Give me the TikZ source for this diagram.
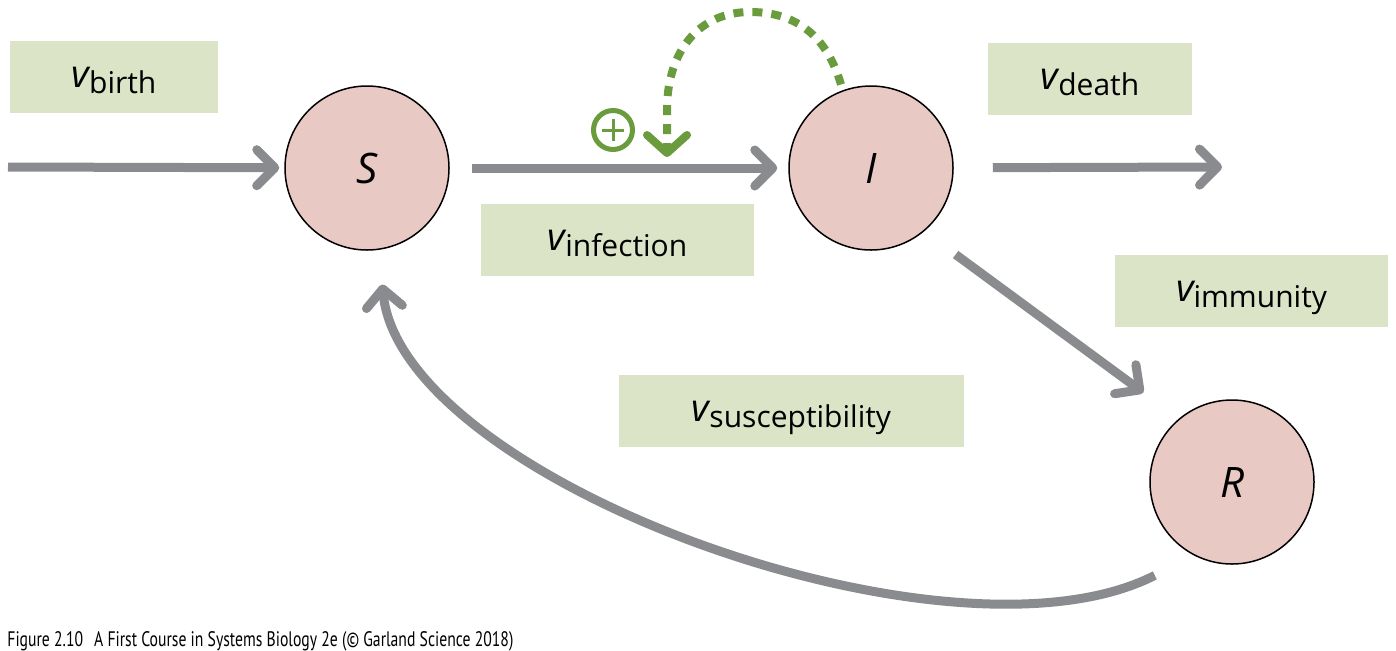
\documentclass[tikz,border=0pt]{standalone}
\usepackage{fontspec}
\usepackage{graphicx}
\setmainfont{Open Sans}
\setsansfont{Open Sans}
\newfontfamily\capfont{PT Sans}
\usetikzlibrary{arrows.meta,calc}
\definecolor{flowgray}{HTML}{898B8E}
\definecolor{boxgreen}{HTML}{DCE4C7}
\definecolor{poolpink}{HTML}{E8C9C4}
\definecolor{actgreen}{HTML}{6A9B3C}
\newcommand\ratelab[1]{{\fontsize{19}{19}\selectfont\itshape v}\raisebox{-3pt}{\fontsize{15}{15}\selectfont #1}}
\begin{document}
\begin{tikzpicture}[x=0.5pt,y=-0.5pt,
 pool/.style={circle, draw=black, line width=0.75pt, fill=poolpink, minimum size=82pt, inner sep=0pt, font=\fontsize{21}{21}\selectfont\itshape},
 ratebox/.style={fill=boxgreen, minimum height=36pt, inner sep=0pt, text height=10pt, text depth=0pt},
 flow/.style={draw=flowgray, line width=4.5pt, -{Straight Barb[length=9pt,width=18pt,round]}},
 regul/.style={draw=actgreen, line width=4pt, dash pattern=on 5pt off 4.5pt, -{Straight Barb[length=9pt,width=20pt,round]}},
 plussign/.style={circle, draw=actgreen, line width=2.5pt, minimum size=19.5pt, inner sep=0pt,
   path picture={\draw[actgreen, line width=1.5pt] ([xshift=-5.5pt]path picture bounding box.center) -- ([xshift=5.5pt]path picture bounding box.center)
     ([yshift=-5.5pt]path picture bounding box.center) -- ([yshift=5.5pt]path picture bounding box.center);}},
]
\useasboundingbox (0,0) rectangle (1396,650);

% pools
\node[pool] (S) at (367,168) {S};
\node[pool] (I) at (871,168) {I};
\node[pool] (R) at (1232,482) {R};

% rate labels
\node[ratebox, minimum width=104pt] (vb) at (114,77) {\ratelab{birth}};
\node[ratebox, minimum width=136.5pt] (vi) at (617.5,240) {\ratelab{infection}};
\node[ratebox, minimum width=102pt] (vd) at (1090,79) {\ratelab{death}};
\node[ratebox, minimum width=136.5pt] (vm) at (1251.5,291) {\ratelab{immunity}};
\node[ratebox, minimum width=172.5pt] (vs) at (791.5,411) {\ratelab{susceptibility}};

% free ends
\coordinate (src) at (8,167);
\coordinate (sink) at (1222,167);
\coordinate (act) at (667,157);

% flows
\draw[flow, shorten >=2.5pt] (src) -- (S);
\draw[flow, shorten <=11pt, shorten >=5.5pt] (S) -- (I);
\draw[flow, shorten <=19.5pt] (I) -- (sink);
\draw[flow, shorten <=19.5pt, shorten >=22pt] (I.-50) -- (R.130);
\draw[flow] ([shift={(-24,30)}]R.230) .. controls (950,680) and (400,480) .. ([shift={(1,35)}]S.-80);

% activation
\draw[regul, shorten <=3pt] (I.110) .. controls (825,30) and (790,12) .. (750,12)
  .. controls (700,12) and (667,50) .. (667,110) -- (act);
\node[plussign] (plus) at (613,130) {};

% caption
\node[anchor=base west, inner sep=0pt] (cap) at (7,646) {\resizebox{253pt}{\height}{\fontsize{10.5}{12}\capfont Figure 2.10\hspace{0.7em}A First Course in Systems Biology 2e (© Garland Science 2018)}};
\end{tikzpicture}
\end{document}
